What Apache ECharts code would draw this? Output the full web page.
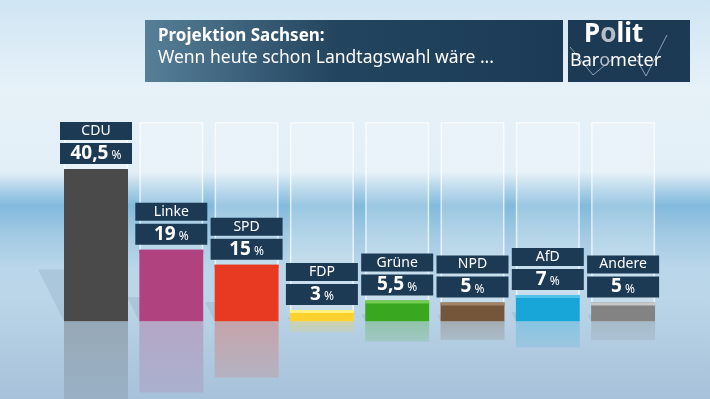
<!DOCTYPE html>
<html><head><meta charset="utf-8">
<script src="https://cdn.jsdelivr.net/npm/echarts@6/dist/echarts.min.js"></script>
<style>html,body{margin:0;padding:0;width:710px;height:399px;overflow:hidden}#c{width:710px;height:399px}</style>
</head><body><div id="c"></div><script>
const categories = ['CDU','Linke','SPD','FDP','Grüne','NPD','AfD','Andere'];
const values = [40.5,19,15,3,5.5,5,7,5];
const valueLabels = ['40,5','19','15','3','5,5','5','7','5'];
const colors = ['#4a4a4a','#b0427f','#e83a22','#fdd22e','#39a71f','#76563b','#18a6d8','#838383'];
const topColors = ['#4a4a4a','#b0427f','#e83a22','#fff27a','#72cc52','#a08366','#52c2ea','#c8c8c8'];
const titleLines = ['Projektion Sachsen:','Wenn heute schon Landtagswahl wäre ...'];
const yMin = -20.7, yMax = 53;

const FONT = '"Noto Sans", "DejaVu Sans", sans-serif';
const NAVY = '#1d3a55';
const BAR_W = 64;
function rgba(hex, a){ const n=parseInt(hex.slice(1),16); return 'rgba('+(n>>16)+','+((n>>8)&255)+','+(n&255)+','+a+')'; }

const chart = echarts.init(document.getElementById('c'), null, {renderer:'canvas'});

function shadowItem(params, api){
  const i = params.dataIndex;
  const base = api.coord([i, 0]);
  const top = api.coord([i, api.value(1)]);
  const h = base[1] - top[1];
  const xl = base[0] - BAR_W/2, xr = base[0] + BAR_W/2;
  const dx = 0.17*h, dy = 0.34*h;
  return {type:'polygon', shape:{points:[[xl,base[1]],[xl-dx,base[1]-dy],[xr-dx,base[1]-dy],[xr,base[1]]]},
    style:{fill:'rgba(70,100,130,0.13)'}};
}
function topItem(params, api){
  const i = params.dataIndex;
  const top = api.coord([i, api.value(1)]);
  return {type:'rect', shape:{x:top[0]-BAR_W/2, y:top[1], width:BAR_W, height:3},
    style:{fill:topColors[i]}};
}

chart.setOption({
  animation:false,
  grid:{left:58.35, right:49.25, top:122, bottom:0},
  xAxis:{type:'category', data:categories, show:false},
  yAxis:{type:'value', min:yMin, max:yMax, show:false},
  graphic:[
    {type:'rect', z:-10, silent:true, shape:{x:0,y:0,width:710,height:399},
     style:{fill:new echarts.graphic.LinearGradient(0,0,0,1,[
       {offset:0,color:'#cfe5f3'},{offset:0.22,color:'#e6f1f8'},{offset:0.43,color:'#e3eff7'},
       {offset:0.475,color:'#acd1e8'},{offset:0.515,color:'#82badc'},{offset:0.59,color:'#a2cae3'},
       {offset:0.67,color:'#b9d6ea'},{offset:0.74,color:'#bcd6e9'},{offset:1,color:'#a6c1d9'}])}},
    {type:'rect', z:10, silent:true, shape:{x:145,y:20,width:418,height:62},
     style:{fill:new echarts.graphic.LinearGradient(0,0,1,0,[
       {offset:0,color:'#577f98'},{offset:0.45,color:'#234560'},{offset:1,color:'#1b3a55'}])}},
    {type:'text', z:11, silent:true, left:158, top:28, style:{text:titleLines[0], fill:'#fff', font:'bold 17px "Noto Sans"'}},
    {type:'text', z:11, silent:true, left:158, top:49, style:{text:titleLines[1], fill:'#fff', font:'17.5px "Noto Sans"'}},
    {type:'rect', z:10, silent:true, shape:{x:568,y:20,width:122,height:62}, style:{fill:NAVY}},
    {type:'polyline', z:11, silent:true, shape:{points:[[570,47],[593,75],[615,57]]}, style:{stroke:'#8da0b4', lineWidth:1, fill:null}},
    {type:'polyline', z:11, silent:true, shape:{points:[[637,60],[646,76],[667,35]]}, style:{stroke:'#8da0b4', lineWidth:1, fill:null}},
    {type:'text', z:12, silent:true, x:584, y:22, style:{text:'{w|P}{o|o}{w|lit}', fontFamily:'Noto Sans', fontWeight:'bold', fontSize:26,
      rich:{w:{fill:'#fff',fontFamily:'Noto Sans',fontWeight:'bold',fontSize:26},o:{fill:'#b4bfca',fontFamily:'Noto Sans',fontWeight:'bold',fontSize:26}}}},
    {type:'text', z:12, silent:true, x:570, y:52, style:{text:'{w|Bar}{o|o}{w|meter}', fontFamily:'Noto Sans', fontSize:18,
      rich:{w:{fill:'#fff',fontFamily:'Noto Sans',fontSize:18},o:{fill:'#b4bfca',fontFamily:'Noto Sans',fontSize:18}}}}
  ],
  series:[
    {type:'bar', silent:true, z:1, barWidth:BAR_W, barGap:'-100%',
     data:values.map(()=>yMax),
     itemStyle:{color:'rgba(255,255,255,0.2)', borderColor:'rgba(255,255,255,0.7)', borderWidth:1.5}},
    {type:'custom', silent:true, z:1.5, renderItem:shadowItem, data:values.map((v,i)=>[i,v])},
    {type:'bar', silent:true, z:2, barWidth:BAR_W, barGap:'-100%',
     data:values.map((v,i)=>({value:-v, itemStyle:{color:new echarts.graphic.LinearGradient(0,0,0,1,[
       {offset:0,color:rgba(colors[i],0.3)},{offset:1,color:rgba(colors[i],0.14)}])}}))},
    {type:'bar', z:3, barWidth:BAR_W, barGap:'-100%',
     data:values.map((v,i)=>({value:v, itemStyle:{color:colors[i]}})),
     label:{show:true, position:'top', distance:5, width:72, height:21, lineHeight:21, align:'center',
       backgroundColor:NAVY,
       formatter:p=>'{v|'+valueLabels[p.dataIndex]+'}{p| %}',
       rich:{v:{color:'#fff', fontFamily:FONT, fontWeight:'bold', fontSize:19, lineHeight:21, align:'center'},
             p:{color:'#fff', fontFamily:FONT, fontSize:12, lineHeight:14, padding:[5,0,0,0], align:'center'}}}},
    {type:'custom', silent:true, z:3.5, renderItem:topItem, data:values.map((v,i)=>[i,v])},
    {type:'bar', silent:true, z:4, barWidth:BAR_W, barGap:'-100%',
     data:values.map(v=>({value:v, itemStyle:{color:'rgba(0,0,0,0)'}})),
     label:{show:true, position:'top', distance:29, width:72, height:18, lineHeight:18, align:'center',
       backgroundColor:NAVY, color:'#fff', fontFamily:FONT, fontSize:14,
       formatter:p=>categories[p.dataIndex]}}
  ]
});
</script></body></html>
